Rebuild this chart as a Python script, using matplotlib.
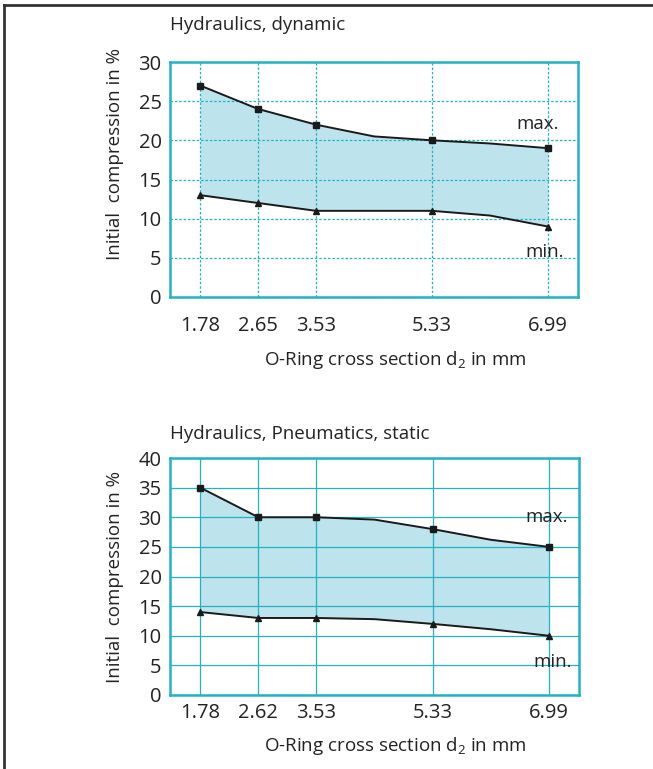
import matplotlib
matplotlib.use("Agg")
import matplotlib.pyplot as plt
from matplotlib.lines import Line2D

plt.rcParams['font.family'] = ['Open Sans', 'DejaVu Sans']
plt.rcParams['mathtext.fontset'] = 'custom'
plt.rcParams['mathtext.rm'] = 'Open Sans'
plt.rcParams['mathtext.it'] = 'Open Sans'
plt.rcParams['mathtext.default'] = 'rm'

# Data (positions 0..6; labelled sizes at 0,1,2,4,6; unlabelled bend points at 3 and 5)
pos = [0, 1, 2, 3, 4, 5, 6]
labelled_idx = [0, 1, 2, 4, 6]
top_labels = ["1.78", "2.65", "3.53", "5.33", "6.99"]
bot_labels = ["1.78", "2.62", "3.53", "5.33", "6.99"]
top_max = [27, 24, 22, 20.5, 20, 19.6, 19]
top_min = [13, 12, 11, 11, 11, 10.4, 9]
bot_max = [35, 30, 30, 29.6, 28, 26.2, 25]
bot_min = [14, 13, 13, 12.8, 12, 11.1, 10]
top_yticks = [0, 5, 10, 15, 20, 25, 30]
bot_yticks = [0, 5, 10, 15, 20, 25, 30, 35, 40]

TEAL = "#22b3c3"
FILL = "#bde3ec"
TXT = "#222222"
W, H = 653, 769

fig = plt.figure(figsize=(W / 100, H / 100), dpi=100)

def fx(px):
    return px / W

def fy(py):
    return 1 - py / H

def make(ax_rect, vmax, vmin, yticks, xlabels, ymax, grid_ls, title, title_y,
         xlabel_y, ylabel_y, maxlbl, minlbl, xpad):
    ax = fig.add_axes(ax_rect)
    ax.fill_between(pos, vmin, vmax, color=FILL, lw=0, zorder=1)
    ax.plot(pos, vmax, color="#1a1a1a", lw=1.4, marker="s", ms=5,
            markevery=labelled_idx, zorder=3)
    ax.plot(pos, vmin, color="#1a1a1a", lw=1.4, marker="^", ms=5,
            markevery=labelled_idx, zorder=3)
    ax.set_xlim(-0.52, 6.52)
    ax.set_ylim(0, ymax)
    ax.set_xticks([pos[i] for i in labelled_idx])
    ax.set_xticklabels(xlabels)
    ax.set_yticks(yticks)
    ax.tick_params(length=0, labelsize=14.5, colors=TXT)
    ax.tick_params(axis="x", pad=xpad)
    ax.tick_params(axis="y", pad=6)
    ax.grid(True, color=TEAL, lw=0.9, ls=grid_ls, zorder=2)
    ax.set_axisbelow(False)
    for s in ax.spines.values():
        s.set_color(TEAL)
        s.set_linewidth(1.8)
    fig.text(fx(170), fy(title_y), title, fontsize=13.5, color=TXT,
             ha="left", va="center")
    fig.text(fx(395), fy(xlabel_y), "O-Ring cross section d$_2$ in mm",
             fontsize=13.5, color=TXT, ha="center", va="center")
    fig.text(fx(115), fy(ylabel_y), "Initial  compression in %", fontsize=13.5,
             color=TXT, ha="center", va="center", rotation=90)
    fig.text(fx(maxlbl[0]), fy(maxlbl[1]), "max.", fontsize=13.5,
             color=TXT, ha="center", va="center")
    fig.text(fx(minlbl[0]), fy(minlbl[1]), "min.", fontsize=13.5,
             color=TXT, ha="center", va="center")
    return ax

make([fx(170), fy(297), fx(408), 235 / H], top_max, top_min, top_yticks,
     top_labels, 30, (0, (2, 1.5)), "Hydraulics, dynamic", 25, 360, 154,
     (538, 124), (545, 252), 14)
make([fx(170), fy(695), fx(409), 237 / H], bot_max, bot_min, bot_yticks,
     bot_labels, 40, "-", "Hydraulics, Pneumatics, static", 434, 746, 577,
     (547, 517), (553, 662), 6)

# page frame lines
fig.add_artist(Line2D([fx(4), fx(4)], [0, fy(5)], color="#333333", lw=2))
fig.add_artist(Line2D([fx(4), 1], [fy(5), fy(5)], color="#333333", lw=2))

fig.savefig("out.png", dpi=100)
